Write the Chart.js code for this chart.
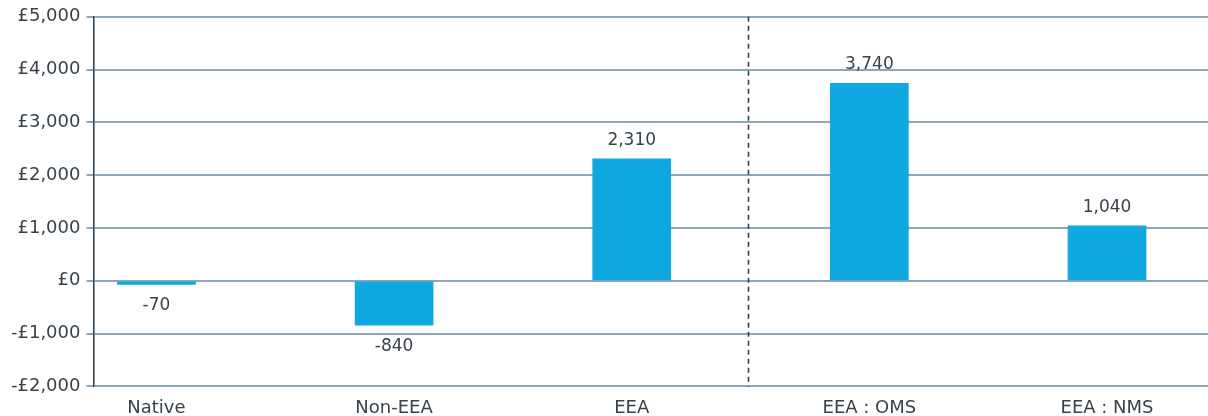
<!DOCTYPE html>
<html>
<head>
<meta charset="utf-8">
<script src="https://cdn.jsdelivr.net/npm/chart.js@4"></script>
<style>
    html, body { margin: 0; padding: 0; background: #fff; overflow: hidden; }
    #wrap { width: 1208px; height: 416px; position: relative; }
</style>
</head>
<body>
<div id="wrap"><canvas id="chart" width="1208" height="416"></canvas></div>
<script>
// Net fiscal contribution per person, by group
const categories = ['Native', 'Non-EEA', 'EEA', 'EEA : OMS', 'EEA : NMS'];
const values = [-70, -840, 2310, 3740, 1040];
const yTicks = [-2000, -1000, 0, 1000, 2000, 3000, 4000, 5000];

const textColor = '#38424d';
const gridColor = '#8fa8b9';
const axisColor = '#33404e';
const barColor = '#0fa8e0';
const fontFamily = '"DejaVu Sans", sans-serif';

const fmt = (v) => v.toLocaleString('en-GB');
const money = (v) => (v < 0 ? '-£' : '£') + fmt(Math.abs(v));

// Value labels above positive bars, below negative ones
const valueLabels = {
    id: 'valueLabels',
    afterDatasetsDraw(chart) {
        const ctx = chart.ctx;
        const meta = chart.getDatasetMeta(0);
        ctx.save();
        ctx.font = '17px ' + fontFamily;
        ctx.fillStyle = textColor;
        ctx.textAlign = 'center';
        meta.data.forEach((bar, i) => {
            const v = values[i];
            if (v >= 0) {
                ctx.textBaseline = 'alphabetic';
                ctx.fillText(fmt(v), bar.x, bar.y - 14);
            } else {
                ctx.textBaseline = 'top';
                ctx.fillText(fmt(v), bar.x, bar.y + 13);
            }
        });
        ctx.restore();
    }
};

// Dashed divider between EEA and its sub-groups
const divider = {
    id: 'divider',
    afterDatasetsDraw(chart) {
        const { ctx, chartArea, scales } = chart;
        const x = Math.round(scales.x.getPixelForValue(2.488)) + 0.5;
        ctx.save();
        ctx.strokeStyle = axisColor;
        ctx.lineWidth = 1.6;
        ctx.setLineDash([5, 4]);
        ctx.beginPath();
        ctx.moveTo(x, chartArea.top);
        ctx.lineTo(x, chartArea.bottom);
        ctx.stroke();
        ctx.restore();
    }
};

new Chart(document.getElementById('chart'), {
    type: 'bar',
    data: {
        datasets: [{
            data: values.map((v, i) => ({ x: i, y: v })),
            backgroundColor: barColor,
            borderWidth: 0,
            barThickness: 78
        }]
    },
    options: {
        responsive: false,
        animation: false,
        devicePixelRatio: 1,
        layout: { padding: { top: 15, right: 0, left: 5, bottom: -14 } },
        plugins: { legend: { display: false }, tooltip: { enabled: false } },
        scales: {
            x: {
                type: 'linear',
                min: -0.265,
                max: 4.425,
                offset: false,
                grid: { display: false, drawTicks: false },
                border: { display: false },
                ticks: {
                    stepSize: 1,
                    includeBounds: false,
                    autoSkip: false,
                    maxRotation: 0,
                    padding: 11,
                    color: textColor,
                    font: { family: fontFamily, size: 18 },
                    callback: (v) => Number.isInteger(v) && categories[v] ? categories[v] : ''
                }
            },
            y: {
                min: -2000,
                max: 5000,
                afterBuildTicks: (scale) => { scale.ticks = yTicks.map(v => ({ value: v })); },
                grid: { color: gridColor, lineWidth: 2, tickLength: 7 },
                border: { display: true, color: axisColor, width: 1.6 },
                ticks: {
                    padding: 6,
                    color: textColor,
                    font: { family: fontFamily, size: 18 },
                    callback: (v) => money(v)
                }
            }
        }
    },
    plugins: [valueLabels, divider]
});
</script>
</body>
</html>
